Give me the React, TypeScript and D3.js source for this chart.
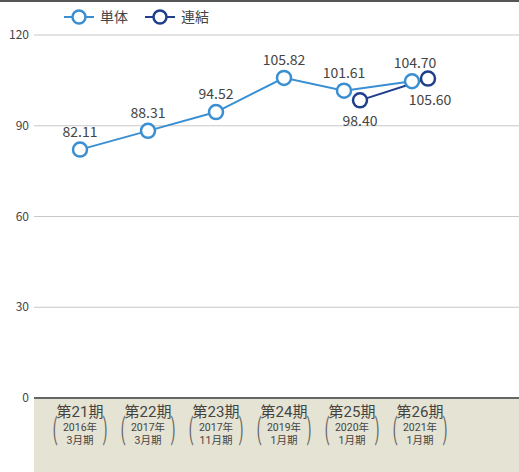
import * as d3 from "d3";

const periods = ["第21期", "第22期", "第23期", "第24期", "第25期", "第26期"];
const years = ["2016年", "2017年", "2017年", "2019年", "2020年", "2021年"];
const months = ["3月期", "3月期", "11月期", "1月期", "1月期", "1月期"];
const single = [82.11, 88.31, 94.52, 105.82, 101.61, 104.7];
const consolidated = [null, null, null, null, 98.4, 105.6];
const yTicks = [0, 30, 60, 90, 120];

const W = 519;
const H = 472;

export default function App() {
  const x = d3.scaleBand<string>().domain(periods).range([46, 454]);
  const y = d3.scaleLinear().domain([0, 120]).range([398, 35]);
  const cx = (i: number) => (x(periods[i]) as number) + x.bandwidth() / 2;
  // 連結がある期は左右にずらす
  const sx = (i: number) => cx(i) - (consolidated[i] != null ? 8 : 0);
  const kx = (i: number) => cx(i) + 8;

  const sPts = single.map((v, i) => ({ i, v }));
  const kPts = consolidated
    .map((v, i) => ({ i, v }))
    .filter((d) => d.v != null) as { i: number; v: number }[];

  const lineS = d3
    .line<{ i: number; v: number }>()
    .x((d) => sx(d.i))
    .y((d) => y(d.v));
  const lineK = d3
    .line<{ i: number; v: number }>()
    .x((d) => kx(d.i))
    .y((d) => y(d.v));

  const cS = "#3a8fd2";
  const cK = "#1f3f8c";
  const txt = "#444";
  const font = "'Noto Sans CJK JP', sans-serif";
  const small = "Roboto, 'Noto Sans CJK JP', sans-serif";

  const paren = (px: number, ch: string) => (
    <text
      x={0}
      y={0}
      textAnchor="middle"
      fontSize={30}
      fill="#666"
      fontFamily={small}
      transform={`translate(${px},439) scale(0.45,1)`}
    >
      {ch}
    </text>
  );

  return (
    <div style={{ position: "fixed", left: 0, top: 0 }}>
      <svg width={W} height={H} style={{ display: "block", fontFamily: font }}>
        <rect width={W} height={H} fill="#fff" />
        <line x1={0} x2={W} y1={1} y2={1} stroke="#555" strokeWidth={2} />
        {/* 下の帯 */}
        <rect x={34} y={399} width={W - 34} height={H - 399} fill="#e5e3d3" />
        {yTicks.map((t) => (
          <g key={t}>
            <line
              x1={34}
              x2={W}
              y1={y(t)}
              y2={y(t)}
              stroke={t === 0 ? "#666" : "#c8c8c8"}
              strokeWidth={t === 0 ? 2 : 1}
            />
            <text x={29} y={y(t) + 4} textAnchor="end" fontSize={12} fill={txt}>
              {t}
            </text>
          </g>
        ))}
        {periods.map((p, i) => (
          <g key={p} fill={txt} fontFamily={small}>
            <text x={cx(i)} y={416.5} textAnchor="middle" fontSize={15}>
              {p}
            </text>
            <text x={cx(i)} y={431} textAnchor="middle" fontSize={10.5}>
              {years[i]}
            </text>
            <text x={cx(i)} y={443.5} textAnchor="middle" fontSize={10.5}>
              {months[i]}
            </text>
            {paren(cx(i) - 25, "(")}
            {paren(cx(i) + 25, ")")}
          </g>
        ))}
        <path d={lineS(sPts) as string} fill="none" stroke={cS} strokeWidth={2} />
        <path d={lineK(kPts) as string} fill="none" stroke={cK} strokeWidth={2} />
        {sPts.map((d) => (
          <circle key={"s" + d.i} cx={sx(d.i)} cy={y(d.v)} r={7} fill="#fff" stroke={cS} strokeWidth={2.5} />
        ))}
        {kPts.map((d) => (
          <circle key={"k" + d.i} cx={kx(d.i)} cy={y(d.v)} r={7} fill="#fff" stroke={cK} strokeWidth={2.5} />
        ))}
        {sPts.map((d) => (
          <text key={"ls" + d.i} x={sx(d.i) + (d.i === 5 ? 3 : 0)} y={y(d.v) - 13} textAnchor="middle" fontSize={14} fill={txt}>
            {d.v.toFixed(2)}
          </text>
        ))}
        {kPts.map((d) => (
          <text key={"lk" + d.i} x={kx(d.i) + (d.i === 5 ? 2 : 0)} y={y(d.v) + 26} textAnchor="middle" fontSize={14} fill={txt}>
            {d.v.toFixed(2)}
          </text>
        ))}
        {/* 凡例 */}
        {[
          { name: "単体", c: cS, x0: 64 },
          { name: "連結", c: cK, x0: 145 },
        ].map((l) => (
          <g key={l.name}>
            <line x1={l.x0} x2={l.x0 + 30} y1={17} y2={17} stroke={l.c} strokeWidth={2} />
            <circle cx={l.x0 + 15} cy={17} r={6.5} fill="#fff" stroke={l.c} strokeWidth={2.5} />
            <text x={l.x0 + 36} y={22} fontSize={14} fill={txt}>
              {l.name}
            </text>
          </g>
        ))}
      </svg>
    </div>
  );
}
